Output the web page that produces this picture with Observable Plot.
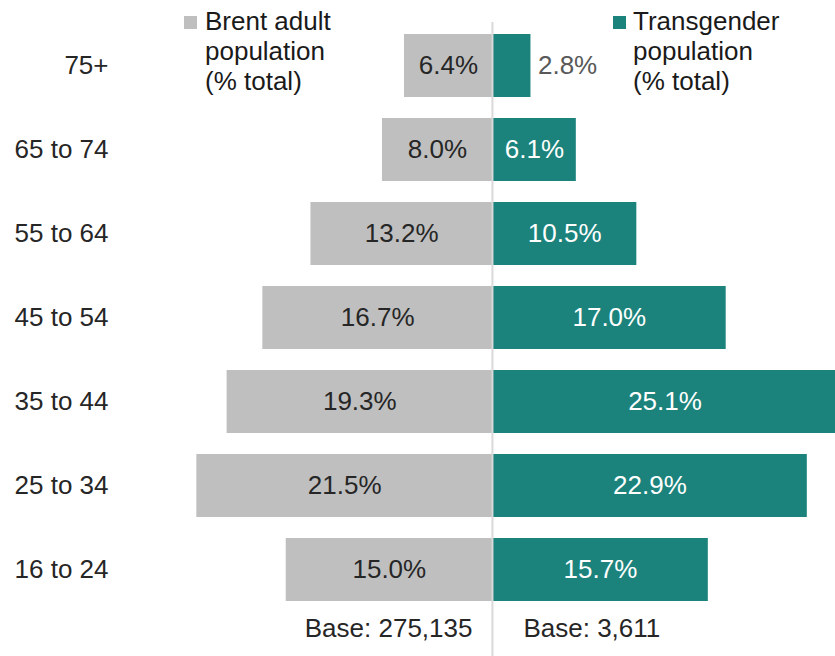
<!DOCTYPE html>
<html>
<head>
<meta charset="utf-8">
<script src="https://cdn.jsdelivr.net/npm/d3@7"></script>
<script src="https://cdn.jsdelivr.net/npm/@observablehq/plot@0.6"></script>
<style>
  html, body { margin: 0; padding: 0; background: #fff; overflow: hidden; }
  #wrap { position: relative; width: 835px; height: 656px; font-family: "Liberation Sans", Arial, sans-serif; }
  .leg { position: absolute; font-size: 26px; line-height: 30px; color: #1a1a1a; }
  .sw { position: absolute; width: 13px; height: 13px; }
</style>
</head>
<body>
<div id="wrap"></div>
<script>
const ageGroups = ["75+", "65 to 74", "55 to 64", "45 to 54", "35 to 44", "25 to 34", "16 to 24"];
const brentPct = [6.4, 8.0, 13.2, 16.7, 19.3, 21.5, 15.0];
const transPct = [2.8, 6.1, 10.5, 17.0, 25.1, 22.9, 15.7];
const seriesNames = ["Brent adult\npopulation\n(% total)", "Transgender\npopulation\n(% total)"];
const baseLabels = ["Base: 275,135", "Base: 3,611"];

const grey = "#bfbfbf";
const teal = "#1b837c";

const brent = ageGroups.map((g, i) => ({group: g, value: brentPct[i]}));
const trans = ageGroups.map((g, i) => ({group: g, value: transPct[i]}));
const fmt = v => v.toFixed(1) + "%";
const fitsInside = v => v >= 4;

const chart = Plot.plot({
  width: 835,
  height: 656,
  marginLeft: 110,
  marginRight: 0,
  marginTop: 0,
  marginBottom: 0,
  style: {fontFamily: "Liberation Sans, Arial, sans-serif", fontSize: "26px", color: "#262626", background: "#fff"},
  x: {domain: [-27.78, 24.95], axis: null},
  y: {domain: ageGroups, range: [23, 611], paddingInner: 0.25, paddingOuter: 0.125, label: null},
  marks: [
    Plot.axisY({tickSize: 0, tickPadding: 2, fontSize: 26, label: null}),
    Plot.barX(brent, {y: "group", x1: 0, x2: d => -d.value, fill: grey}),
    Plot.barX(trans, {y: "group", x1: 0, x2: d => d.value, fill: teal}),
    Plot.ruleX([0], {stroke: "#d9d9d9", strokeWidth: 2, insetTop: 22}),
    Plot.text(brent, {y: "group", x: d => -d.value / 2, text: d => fmt(d.value), fill: "#262626", fontSize: 26}),
    Plot.text(trans.filter(d => fitsInside(d.value)), {y: "group", x: d => d.value / 2, text: d => fmt(d.value), fill: "#ffffff", fontSize: 26}),
    Plot.text(trans.filter(d => !fitsInside(d.value)), {y: "group", x: d => d.value, text: d => fmt(d.value), fill: "#595959", textAnchor: "start", dx: 7, fontSize: 26}),
    Plot.text([baseLabels[0]], {x: 0, text: d => d, frameAnchor: "bottom", textAnchor: "end", dx: -20, dy: -28, lineAnchor: "middle", fill: "#262626", fontSize: 26}),
    Plot.text([baseLabels[1]], {x: 0, text: d => d, frameAnchor: "bottom", textAnchor: "start", dx: 31, dy: -28, lineAnchor: "middle", fill: "#262626", fontSize: 26})
  ]
});

const wrap = document.getElementById("wrap");
wrap.appendChild(chart);

// Legend overlaid in the top area
const legends = [
  {name: seriesNames[0], color: grey, sx: 184, tx: 205},
  {name: seriesNames[1], color: teal, sx: 613, tx: 633}
];
legends.forEach(l => {
  const sw = document.createElement("div");
  sw.className = "sw";
  sw.style.left = l.sx + "px";
  sw.style.top = "16px";
  sw.style.background = l.color;
  wrap.appendChild(sw);
  const t = document.createElement("div");
  t.className = "leg";
  t.style.left = l.tx + "px";
  t.style.top = "6px";
  t.innerHTML = l.name.split("\n").join("<br>");
  wrap.appendChild(t);
});
</script>
</body>
</html>
